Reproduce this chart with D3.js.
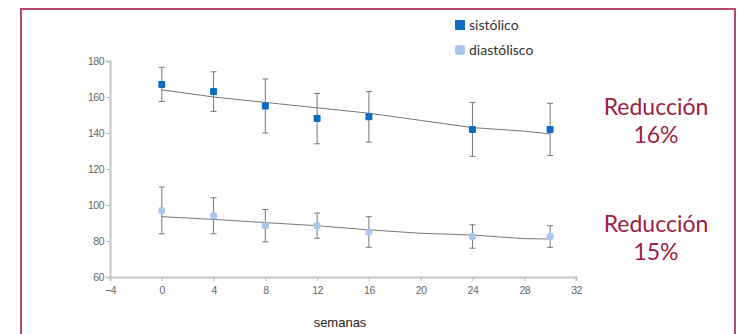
<!DOCTYPE html>
<html>
<head>
<script src="https://d3js.org/d3.v7.min.js"></script>
<style>
  body { margin: 0; background: #fff; }
  svg { display: block; }
</style>
</head>
<body>
<div id="chart"></div>
<script>
// semanas de tratamiento
var semanas = [0, 4, 8, 12, 16, 24, 30];
// presión sistólica (media y desviación)
var sistolico = [167, 163, 155, 148, 149, 142, 142];
var sistolicoErr = [9.5, 11, 15, 14, 14, 15, 14.5];
// presión diastólica
var diastolico = [97, 94, 88.5, 88.5, 85, 82.5, 82.5];
var diastolicoErr = [13, 10, 9, 7, 8.5, 6.5, 6];
// rectas de tendencia
var tendT = [0, 4, 8, 12, 16, 20, 24, 28, 30];
var tendSis = [164, 160, 157, 154, 151, 147, 143, 141, 139.5];
var tendDia = [93.5, 92, 90.2, 88.5, 86.2, 84.3, 83.3, 81.3, 81.1];
var xTicks = [-4, 0, 4, 8, 12, 16, 20, 24, 28, 32];
var yTicks = [60, 80, 100, 120, 140, 160, 180];
var notas = [["Reducción", "16%"], ["Reducción", "15%"]];

var w = 738, h = 334;
var svg = d3.select("#chart").append("svg")
    .attr("width", w)
    .attr("height", h);

// marco
svg.append("path")
    .attr("d", "M21,340V9H735V340")
    .attr("fill", "none")
    .attr("stroke", "#b84a6a")
    .attr("stroke-width", 2);

var x = d3.scaleLinear().domain([-4, 32]).range([110, 576]);
var y = d3.scaleLinear().domain([60, 180]).range([277, 61]);

// ejes
var gx = svg.append("g")
    .attr("transform", "translate(0,277)")
    .call(d3.axisBottom(x).tickValues(xTicks).tickSize(4).tickPadding(6));
var gy = svg.append("g")
    .attr("transform", "translate(110,0)")
    .call(d3.axisLeft(y).tickValues(yTicks).tickSize(4).tickPadding(2));
[gx, gy].forEach(function(g) {
  g.select(".domain").attr("stroke", "#c4c4c4").attr("stroke-width", 2);
  g.selectAll(".tick line").attr("stroke", "#bbb");
  g.selectAll(".tick text")
      .attr("fill", "#666")
      .attr("font-family", "Liberation Sans, Arial, sans-serif")
      .attr("font-size", 10.5)
      .attr("letter-spacing", -0.5);
});

svg.append("text")
    .attr("x", 340).attr("y", 327)
    .attr("text-anchor", "middle")
    .attr("font-family", "Liberation Sans, Arial, sans-serif")
    .attr("font-size", 13)
    .attr("fill", "#222")
    .text("semanas");

var line = d3.line()
    .x(function(d) { return x(d[0]); })
    .y(function(d) { return y(d[1]); });

function serie(vals, errs, tend, color, round) {
  var g = svg.append("g");
  g.append("path")
      .datum(d3.zip(tendT, tend))
      .attr("d", line)
      .attr("fill", "none")
      .attr("stroke", "#777")
      .attr("stroke-width", 1);
  var pts = d3.zip(semanas, vals, errs);
  var eb = g.selectAll(".eb").data(pts).enter().append("g").attr("class", "eb");
  eb.append("line")
      .attr("x1", function(d) { return x(d[0]); })
      .attr("x2", function(d) { return x(d[0]); })
      .attr("y1", function(d) { return y(d[1] + d[2]); })
      .attr("y2", function(d) { return y(d[1] - d[2]); })
      .attr("stroke", "#777").attr("stroke-width", 1);
  [1, -1].forEach(function(s) {
    eb.append("line")
        .attr("x1", function(d) { return x(d[0]) - 3; })
        .attr("x2", function(d) { return x(d[0]) + 3; })
        .attr("y1", function(d) { return y(d[1] + s * d[2]); })
        .attr("y2", function(d) { return y(d[1] + s * d[2]); })
        .attr("stroke", "#777").attr("stroke-width", 1);
  });
  g.selectAll(".pt").data(pts).enter().append("rect")
      .attr("x", function(d) { return x(d[0]) - 3.5; })
      .attr("y", function(d) { return y(d[1]) - 3.5; })
      .attr("width", 7).attr("height", 7)
      .attr("rx", round).attr("ry", round)
      .attr("fill", color);
}
serie(sistolico, sistolicoErr, tendSis, "#0b6cc2", 1);
serie(diastolico, diastolicoErr, tendDia, "#a8c8ec", 2.5);

// leyenda
var ley = [["sistólico", "#0b6cc2", 0.5], ["diastólisco", "#a8c8ec", 3]];
ley.forEach(function(d, i) {
  svg.append("rect")
      .attr("x", 455).attr("y", 20 + i * 25)
      .attr("width", 10).attr("height", 10)
      .attr("rx", d[2]).attr("ry", d[2])
      .attr("fill", d[1]);
  svg.append("text")
      .attr("x", 469).attr("y", 30 + i * 25)
      .attr("font-family", "Lato, sans-serif")
      .attr("font-size", 14)
      .attr("fill", "#333")
      .text(d[0]);
});

// notas de reducción
notas.forEach(function(d, i) {
  var t = svg.append("text")
      .attr("text-anchor", "middle")
      .attr("font-family", "Lato, sans-serif")
      .attr("font-size", 23)
      .attr("fill", "#9e1d42");
  t.append("tspan").attr("x", 656).attr("y", 115 + i * 117).text(d[0]);
  t.append("tspan").attr("x", 656).attr("y", 143 + i * 117).text(d[1]);
});
</script>
</body>
</html>
